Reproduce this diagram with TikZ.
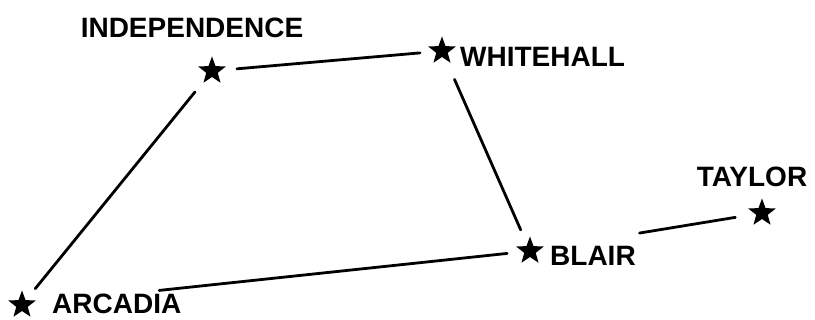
\documentclass[tikz,border=0pt]{standalone}
\usepackage{fontspec}
\setmainfont{Liberation Sans}
\usetikzlibrary{shapes.geometric, positioning, calc}

\tikzset{
    town/.style={star, star points=5, star point ratio=2.4, fill=black, draw=none, minimum size=29pt, inner sep=0pt},
    townname/.style={font=\bfseries\fontsize{28}{28}\selectfont, inner sep=0pt, text height=20pt, text depth=0pt},
    road/.style={line width=2.8pt, line cap=round}
}

\begin{document}
\begin{tikzpicture}[x=1pt, y=1pt]
    \useasboundingbox (0,0) rectangle (815,320);

    % towns
    \node[town] (ind)    at (212,249) {};
    \node[town] (white)  at (442,269) {};
    \node[town] (blair)  at (530,69)  {};
    \node[town] (taylor) at (762,107) {};
    \node[town] (arc)    at (22,15)   {};

    % names
    \node[townname] (indname) at ([shift={(-20,43)}]ind.center) {INDEPENDENCE};
    \node[townname, anchor=west] (whitename) at ([shift={(18,-6)}]white.center) {WHITEHALL};
    \node[townname, anchor=west] (blairname) at ([shift={(20,-5)}]blair.center) {BLAIR};
    \node[townname] (taylorname) at ([shift={(-10,36)}]taylor.center) {TAYLOR};
    \node[townname, anchor=west] (arcname) at ([shift={(30,1)}]arc.center) {ARCADIA};

    % roads
    \draw[road, shorten <=25pt, shorten >=22pt] (ind.center) -- (white.center);
    \draw[road, shorten <=27pt, shorten >=21pt] (ind.center) -- (arc.center);
    \draw[road, shorten <=31pt, shorten >=23pt] (white.center) -- (blair.center);
    \draw[road, shorten <=138pt, shorten >=23pt] (arc.center) -- (blair.center);
    \draw[road, shorten <=111pt, shorten >=27pt] (blair.center) -- (taylor.center);
\end{tikzpicture}
\end{document}
